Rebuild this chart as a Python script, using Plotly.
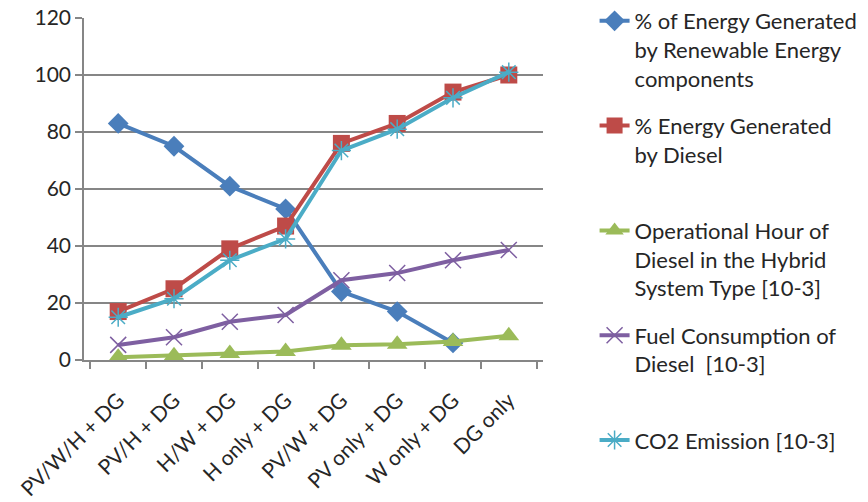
import plotly.graph_objects as go

# Hybrid system configurations (x-axis categories)
systems = ["PV/W/H + DG", "PV/H + DG", "H/W + DG", "H only + DG",
           "PV/W + DG", "PV only + DG", "W only + DG", "DG only"]

renewable_pct = [83, 75, 61, 53, 24, 17, 6, None]
diesel_pct = [17, 25, 39, 47, 76, 83, 94, 100]
operational_hours = [1, 1.5, 2.3, 3, 5.2, 5.5, 6.5, 8.5]
fuel_consumption = [5.3, 8, 13.4, 15.8, 28, 30.5, 35, 38.6]
co2_emission = [15, 21.5, 35, 42.5, 73.5, 81, 92, 101]

series_names = [
    "% of Energy Generated<br>by Renewable Energy<br>components",
    "% Energy Generated<br>by Diesel<br> ",
    "Operational Hour of<br>Diesel in the Hybrid<br>System Type [10-3]",
    "Fuel Consumption of<br>Diesel  [10-3]<br> ",
    "CO2 Emission [10-3]",
]

FONT = "Lato, Calibri, Carlito, sans-serif"
TEXT_COLOR = "#262626"

fig = go.Figure()

def add_series(values, name, color, symbol, size, marker_line=None):
    marker = dict(symbol=symbol, size=size, color=color)
    if marker_line is not None:
        marker["line"] = marker_line
    fig.add_trace(go.Scatter(
        x=systems, y=values, name=name, mode="lines+markers",
        line=dict(color=color, width=4),
        marker=marker,
        legendgroup=name,
    ))

add_series(renewable_pct, series_names[0], "#4A7EBB", "diamond", 16)
add_series(diesel_pct, series_names[1], "#BE4B48", "square", 17)
add_series(operational_hours, series_names[2], "#9BBB59", "triangle-up", 18)
add_series(fuel_consumption, series_names[3], "#7E5FA1", "x-thin-open", 16,
           dict(color="#8064A2", width=1.5))
add_series(co2_emission, series_names[4], "#4BACC6", "asterisk-open", 16,
           dict(color="#4BACC6", width=1.5))

fig.update_layout(
    width=868, height=502,
    margin=dict(l=84, r=325, t=18, b=142, autoexpand=False),
    paper_bgcolor="white",
    plot_bgcolor="white",
    font=dict(family=FONT, size=21, color=TEXT_COLOR),
    showlegend=True,
    legend=dict(
        xref="container", yref="container",
        x=0.685, xanchor="left", y=1.003, yanchor="top",
        valign="top",
        tracegroupgap=16,
        maxheight=1000,
        font=dict(family=FONT, size=22, color=TEXT_COLOR),
        bgcolor="rgba(0,0,0,0)",
    ),
    xaxis=dict(
        type="category",
        tickangle=-45,
        showgrid=False,
        showline=True, linecolor="#868686", linewidth=1.5,
        ticks="outside", ticklen=7, tickcolor="#868686", tickwidth=1.5,
        tickson="boundaries",
        ticklabelstandoff=18,
        tickfont=dict(family=FONT, size=21, color=TEXT_COLOR),
    ),
    yaxis=dict(
        range=[0, 120],
        tickvals=[0, 20, 40, 60, 80, 100, 120],
        showgrid=True, gridcolor="#868686", gridwidth=1.5,
        showline=True, linecolor="#868686", linewidth=1.5,
        ticks="outside", ticklen=7, tickcolor="#868686", tickwidth=1.5,
        zeroline=False,
        tickfont=dict(family=FONT, size=21, color=TEXT_COLOR),
    ),
)

fig.write_html("out.html")
